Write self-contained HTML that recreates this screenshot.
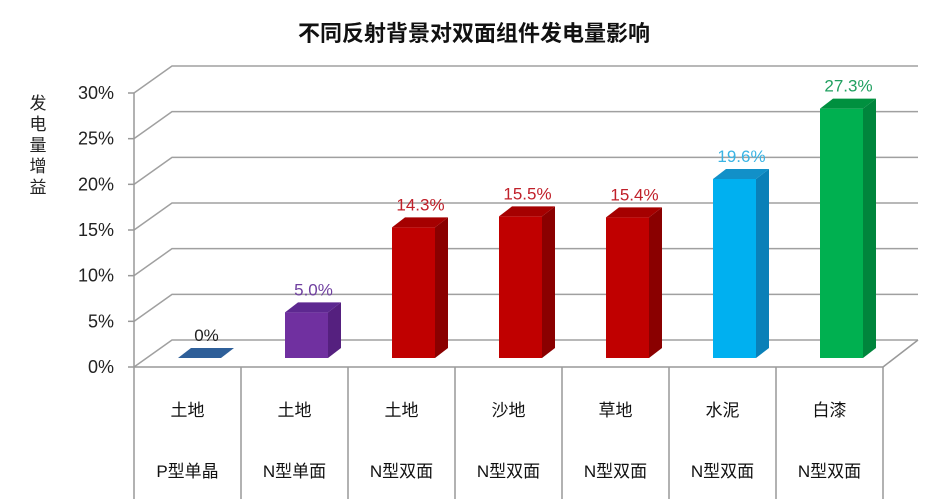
<!DOCTYPE html>
<html><head><meta charset="utf-8"><style>
body{margin:0;background:#fff;}
svg{display:block;font-family:"Liberation Sans","Noto Sans CJK SC",sans-serif;}
</style></head><body>
<svg id="chart" width="948" height="499" viewBox="0 0 948 499">
<text x="474" y="41" text-anchor="middle" font-size="22" font-weight="bold" fill="#111">不同反射背景对双面组件发电量影响</text>
<text font-size="17" fill="#222" text-anchor="middle">
<tspan x="38" y="109">发</tspan><tspan x="38" y="130">电</tspan><tspan x="38" y="151">量</tspan><tspan x="38" y="172">增</tspan><tspan x="38" y="193">益</tspan></text>
<g id="grid"></g><g id="bars"></g><g id="table"></g>
</svg>
<script>
const categories=["土地","土地","土地","沙地","草地","水泥","白漆"];
const types=["P型单晶","N型单面","N型双面","N型双面","N型双面","N型双面","N型双面"];
const values=[0,5.0,14.3,15.5,15.4,19.6,27.3];
const labels=["0%","5.0%","14.3%","15.5%","15.4%","19.6%","27.3%"];
const yTicks=[0,5,10,15,20,25,30];
const fronts=["#2e5f99","#7030a0","#c00000","#c00000","#c00000","#00b0f0","#00b050"];
const sides=["#244a78","#55207f","#8a0000","#8a0000","#8a0000","#0a80b8","#00853c"];
const tops=["#3a6aa4","#5d2890","#a50000","#a50000","#a50000","#1290c8","#00903f"];
const labelColors=["#222","#7040a0","#c0202a","#c0202a","#c0202a","#3ab4e4","#20a060"];
const NS="http://www.w3.org/2000/svg";
const x0=134,x1=883,y0=367,ppv=274/30,ddx=38,ddy=-27;
const cw=(x1-x0)/categories.length;
const yS=v=>y0-v*ppv;
function el(t,a,p){const e=document.createElementNS(NS,t);for(const k in a)e.setAttribute(k,a[k]);p.appendChild(e);return e;}
const g=document.getElementById('grid'),b=document.getElementById('bars'),tb=document.getElementById('table');
yTicks.forEach(v=>{const y=yS(v);
 const l=el('polyline',{points:`${x0},${y} ${x0+ddx},${y+ddy} ${918},${y+ddy}`,fill:'none',stroke:'#a0a0a0','stroke-width':1.5},g);
 
 
 el('line',{x1:x0-6,y1:y,x2:x0,y2:y,stroke:'#999','stroke-width':1.5},g);
 const t=el('text',{x:114,y:y+6,'text-anchor':'end','font-size':18,fill:'#222'},g);t.textContent=v+'%';
 
 
});
el('line',{x1:x0,y1:yS(30),x2:x0,y2:y0,stroke:'#999','stroke-width':1.5},g);
el('polyline',{points:`${x1},${y0} ${918},${y0+ddy}`,fill:'none',stroke:'#999','stroke-width':1.5},g);
el('line',{x1:x0,y1:y0,x2:x1,y2:y0,stroke:'#999','stroke-width':1.5},g);
const bw=43,sdx=13,sdy=-10,base=358;
values.forEach((v,i)=>{
 const cx=x0+cw*(i+0.5)+12,xl=cx-bw/2,xr=cx+bw/2,yt=base-v*ppv;
 const grp=el('g',{},b);
 
 
 if(v>0){
  el('rect',{x:xl,y:yt,width:bw,height:base-yt,fill:fronts[i]},grp);
  el('polygon',{points:`${xr},${yt} ${xr+sdx},${yt+sdy} ${xr+sdx},${base+sdy} ${xr},${base}`,fill:sides[i]},grp);
 }
 el('polygon',{points:`${xl},${yt} ${xl+sdx},${yt+sdy} ${xr+sdx},${yt+sdy} ${xr},${yt}`,fill:v>0?tops[i]:fronts[i]},grp);
 const t=el('text',{x:cx+7,y:yt-17,'text-anchor':'middle','font-size':17,fill:labelColors[i]},b);t.textContent=labels[i];
 
 
});
for(let i=0;i<=categories.length;i++){el('line',{x1:x0+cw*i,y1:y0,x2:x0+cw*i,y2:499,stroke:'#999','stroke-width':1.5},tb);}
categories.forEach((c,i)=>{const cx=x0+cw*(i+0.5);
 const t=el('text',{x:cx,y:416,'text-anchor':'middle','font-size':17,fill:'#111'},tb);t.textContent=c;
 
 
 const t2=el('text',{x:cx,y:477,'text-anchor':'middle','font-size':17,fill:'#111'},tb);t2.textContent=types[i];
 
 
});
</script>
</body></html>
